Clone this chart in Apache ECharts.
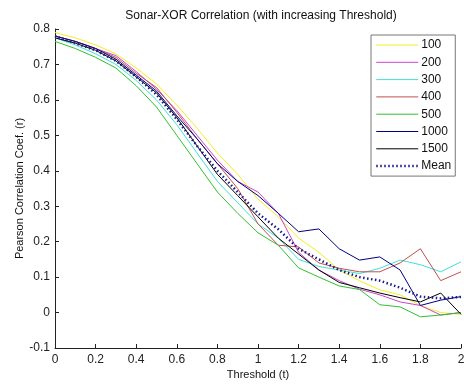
<!DOCTYPE html>
<html>
<head>
<meta charset="utf-8">
<script src="https://cdn.jsdelivr.net/npm/echarts@6/dist/echarts.min.js"></script>
<style>
  html, body { margin: 0; padding: 0; background: #fff; }
  #chart { width: 464px; height: 384px; }
</style>
</head>
<body>
<div id="chart"></div>
<script>
// thresholds 0 .. 2 step 0.1
const thresholds = [0, 0.1, 0.2, 0.3, 0.4, 0.5, 0.6, 0.7, 0.8, 0.9, 1.0,
                    1.1, 1.2, 1.3, 1.4, 1.5, 1.6, 1.7, 1.8, 1.9, 2.0];

const seriesNames = ['100', '200', '300', '400', '500', '1000', '1500', 'Mean'];

const s100  = [0.79, 0.775, 0.755, 0.73, 0.69, 0.645, 0.585, 0.52, 0.45, 0.39, 0.32, 0.27, 0.21, 0.17, 0.12, 0.09, 0.064, 0.05, 0.02, 0.0, -0.005];
const s200  = [0.78, 0.765, 0.745, 0.725, 0.68, 0.63, 0.57, 0.5, 0.43, 0.37, 0.34, 0.28, 0.17, 0.12, 0.09, 0.066, 0.05, 0.03, 0.02, -0.007, 0.0];
const s300  = [0.775, 0.755, 0.73, 0.70, 0.655, 0.60, 0.53, 0.45, 0.37, 0.31, 0.25, 0.21, 0.15, 0.13, 0.12, 0.11, 0.125, 0.148, 0.135, 0.115, 0.143];
const s400  = [0.78, 0.765, 0.745, 0.72, 0.675, 0.635, 0.565, 0.49, 0.42, 0.35, 0.25, 0.19, 0.185, 0.14, 0.125, 0.115, 0.115, 0.14, 0.18, 0.09, 0.115];
const s500  = [0.765, 0.745, 0.72, 0.69, 0.64, 0.58, 0.50, 0.42, 0.34, 0.28, 0.225, 0.19, 0.126, 0.1, 0.075, 0.065, 0.022, 0.016, -0.012, -0.007, 0.0];
const s1000 = [0.78, 0.765, 0.745, 0.715, 0.67, 0.625, 0.555, 0.49, 0.42, 0.37, 0.33, 0.28, 0.228, 0.236, 0.18, 0.148, 0.157, 0.12, 0.02, 0.035, 0.045];
const s1500 = [0.775, 0.76, 0.74, 0.71, 0.665, 0.62, 0.55, 0.47, 0.39, 0.33, 0.27, 0.21, 0.165, 0.12, 0.085, 0.07, 0.055, 0.042, 0.03, 0.055, -0.005];
const sMean = [0.78, 0.76, 0.74, 0.71, 0.665, 0.615, 0.545, 0.47, 0.40, 0.34, 0.28, 0.235, 0.18, 0.15, 0.12, 0.10, 0.09, 0.07, 0.045, 0.04, 0.044];

const seriesData = [s100, s200, s300, s400, s500, s1000, s1500, sMean];
const seriesColors = ['#f2f020', '#cc44cc', '#40e0d8', '#c05050', '#30c030', '#000080', '#000000', '#1a1a90'];

const xTicks = { min: 0, max: 2, step: 0.2 };
const yTicks = { min: -0.1, max: 0.8, step: 0.1 };

const chart = echarts.init(document.getElementById('chart'));

const font = 'Liberation Sans, Arial, sans-serif';
const meanDash = [1.5, 2.5];

function pairs(values) {
    return values.map((v, i) => [thresholds[i], v]);
}

const series = seriesNames.map((name, i) => {
    const isMean = name === 'Mean';
    return {
        name: name,
        type: 'line',
        data: pairs(seriesData[i]),
        showSymbol: false,
        symbol: 'none',
        animation: false,
        lineStyle: {
            color: seriesColors[i],
            width: isMean ? 2.5 : 1,
            type: isMean ? meanDash : 'solid'
        },
        itemStyle: { color: seriesColors[i] },
        z: isMean ? 10 : 2
    };
});

// legend entries: plain line icons, no symbol
const legendData = seriesNames.map((name, i) => ({
    name: name,
    itemStyle: { opacity: 0 },
    lineStyle: name === 'Mean'
        ? { color: seriesColors[i], width: 2.5, type: meanDash }
        : { color: seriesColors[i], width: 1, type: 'solid' }
}));

chart.setOption({
    animation: false,
    backgroundColor: '#fff',
    title: {
        text: 'Sonar-XOR Correlation (with increasing Threshold)',
        left: 256,
        textAlign: 'center',
        top: 5,
        textStyle: { fontFamily: font, fontSize: 12, fontWeight: 'normal', color: '#111' }
    },
    legend: {
        orient: 'vertical',
        left: 371,
        top: 35,
        padding: [4, 4, 4, 4],
        itemWidth: 42,
        itemHeight: 12,
        itemGap: 5.3,
        borderColor: '#777',
        borderWidth: 1,
        backgroundColor: '#fff',
        itemStyle: { opacity: 0 },
        lineStyle: { width: 1 },
        data: legendData,
        textStyle: { fontFamily: font, fontSize: 12, color: '#111', padding: [0, 0, 0, -2] }
    },
    grid: { left: 55, right: 3, top: 29, bottom: 36, outerBoundsMode: 'none' },
    xAxis: {
        type: 'value',
        min: xTicks.min,
        max: xTicks.max,
        interval: xTicks.step,
        name: 'Threshold (t)',
        nameLocation: 'middle',
        nameGap: 21,
        nameMoveOverlap: false,
        nameTextStyle: { fontFamily: font, fontSize: 11, color: '#111' },
        axisLine: { onZero: false, lineStyle: { color: '#222', width: 1 } },
        axisTick: { inside: true, length: 4, lineStyle: { color: '#222' } },
        axisLabel: { fontFamily: font, fontSize: 12, color: '#222', margin: 6 },
        splitLine: { show: false }
    },
    yAxis: {
        type: 'value',
        min: yTicks.min,
        max: yTicks.max,
        interval: yTicks.step,
        name: 'Pearson Correlation Coef. (r)',
        nameLocation: 'middle',
        nameGap: 30,
        nameMoveOverlap: false,
        nameTextStyle: { fontFamily: font, fontSize: 11, color: '#111' },
        axisLine: { show: true, onZero: false, lineStyle: { color: '#222', width: 1 } },
        axisTick: { show: true, inside: true, length: 4, lineStyle: { color: '#222' } },
        axisLabel: { fontFamily: font, fontSize: 12, color: '#222', margin: 5 },
        splitLine: { show: false }
    },
    series: series
});
</script>
</body>
</html>
